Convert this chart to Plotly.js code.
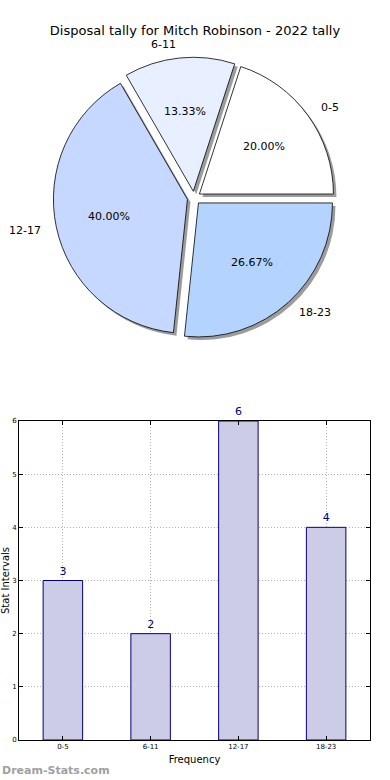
<!DOCTYPE html>
<html><head><meta charset="utf-8">
<script src="https://cdn.plot.ly/plotly-3.0.1.min.js"></script>
<style>html,body{margin:0;padding:0;background:#fff}#chart{width:390px;height:780px}</style>
</head><body><div id="chart"></div>
<script>
const categories = ["0-5", "6-11", "12-17", "18-23"];
const counts = [3, 2, 6, 4];
const sliceColors = ["#ffffff", "#e8f0ff", "#c6d8ff", "#b4d4ff"];
const yTicks = [0, 1, 2, 3, 4, 5, 6];

const W = 390, H = 780;
const font = "DejaVu Sans, sans-serif";
const explode = 0.05;
const pull = categories.map(() => explode);
const dom = {x: [0.1366, 0.8582], y: [0.5658, 0.9266]};
const sdx = 3/W, sdy = 3/H;
// Plotly's counterclockwise pies end the first slice at `rotation`; start it at 3 o'clock instead
const total = counts.reduce((a, b) => a + b, 0);
const rot = 90 - 360 * counts[0] / total;

const base = {type: "pie", values: counts, labels: categories, sort: false,
  direction: "counterclockwise", rotation: rot, pull: pull, showlegend: false,
  textinfo: "none", hoverinfo: "skip"};

const shadow = Object.assign({}, base, {
  domain: {x: [dom.x[0]+sdx, dom.x[1]+sdx], y: [dom.y[0]-sdy, dom.y[1]-sdy]},
  marker: {colors: categories.map(() => "rgba(90,90,90,0.6)"), line: {width: 0}}
});
const main = Object.assign({}, base, {
  domain: dom,
  marker: {colors: sliceColors, line: {color: "#000", width: 0.8}}
});
const bars = {
  type: "bar", x: categories, y: counts, width: 0.45,
  marker: {color: "#ccccE6", line: {color: "#000080", width: 1}},
  text: counts.map(String), textposition: "outside", cliponaxis: false,
  textfont: {family: font, size: 11, color: "#000080"},
  xaxis: "x", yaxis: "y", showlegend: false
};

// pie labels placed like matplotlib: labels at 1.1 r, percentages at 0.6 r (plus explode offset)
const boxW = (dom.x[1] - dom.x[0]) * W, boxH = (dom.y[1] - dom.y[0]) * H;
const R = Math.min(boxW, boxH) / (2 * (1 + explode));
const cx = (dom.x[0] + dom.x[1]) / 2, cy = (dom.y[0] + dom.y[1]) / 2;
const pieAnn = [];
let acc = 0;
counts.forEach((v, i) => {
  const mid = (acc + v / 2) / total * 2 * Math.PI;
  acc += v;
  const c = Math.cos(mid), s = Math.sin(mid);
  const dl = (1.1 + explode) * R, dp = (0.6 + explode) * R;
  pieAnn.push({text: categories[i], xref: "paper", yref: "paper",
    x: cx + dl * c / W, y: cy + dl * s / H, xanchor: c >= 0 ? "left" : "right", yanchor: "middle",
    showarrow: false, font: {family: font, size: 11, color: "#000"}});
  pieAnn.push({text: (100 * v / total).toFixed(2) + "%", xref: "paper", yref: "paper",
    x: cx + dp * c / W, y: cy + dp * s / H, xanchor: "center", yanchor: "middle",
    showarrow: false, font: {family: font, size: 11, color: "#000"}});
});

const grid = {showgrid: true, gridcolor: "#b0b0b0", griddash: "1px,2px", gridwidth: 1};
const layout = {
  width: W, height: H, margin: {l: 0, r: 0, t: 0, b: 0},
  paper_bgcolor: "#fff", plot_bgcolor: "#fff", showlegend: false,
  font: {family: font, color: "#000"},
  title: {text: "Disposal tally for Mitch Robinson - 2022 tally", font: {family: font, size: 13, color: "#000"},
          x: 0.5, xanchor: "center", y: 1 - 30/H, yanchor: "middle"},
  xaxis: Object.assign({domain: [19/W, 370/W], anchor: "y", range: [-0.5, 3.5],
          showline: true, linecolor: "#000", linewidth: 1, mirror: "ticks",
          ticks: "inside", ticklen: 4, tickcolor: "#000",
          tickfont: {family: font, size: 7}, zeroline: false,
          title: {text: "Frequency", font: {family: font, size: 10}, standoff: 5}}, grid),
  yaxis: Object.assign({domain: [1 - 740/H, 1 - 421/H], anchor: "x", range: [0, 6],
          tickvals: yTicks, ticktext: yTicks.map(String),
          showline: true, linecolor: "#000", linewidth: 1, mirror: "ticks",
          ticks: "inside", ticklen: 4, tickcolor: "#000",
          tickfont: {family: font, size: 7}, zeroline: false,
          title: {text: "Stat Intervals", font: {family: font, size: 10}, standoff: 1}}, grid),
  annotations: pieAnn.concat([{text: "<b>Dream-Stats.com</b>", xref: "paper", yref: "paper", x: 0, y: 1 - 770/H,
                 xanchor: "left", yanchor: "middle", showarrow: false,
                 font: {family: font, size: 11, color: "#a0a0a0"}}])
};
Plotly.newPlot("chart", [shadow, main, bars], layout, {displayModeBar: false, staticPlot: true});
</script></body></html>
